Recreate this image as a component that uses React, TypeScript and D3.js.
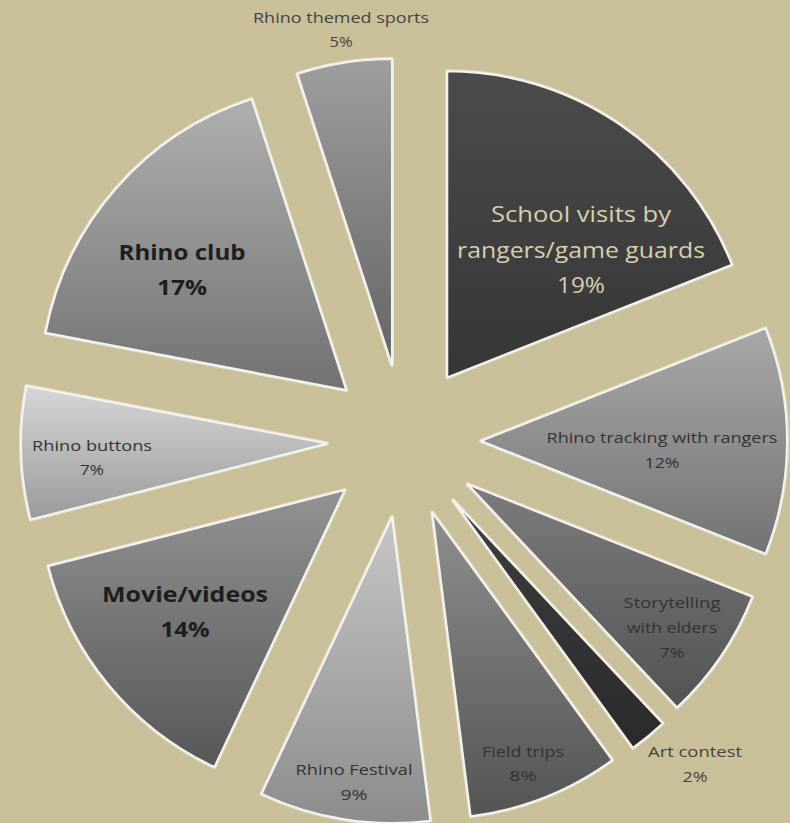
import React from "react";
import * as d3 from "d3";

// ---- data ----
const categories = [
  "School visits by rangers/game guards",
  "Rhino tracking with rangers",
  "Storytelling with elders",
  "Art contest",
  "Field trips",
  "Rhino Festival",
  "Movie/videos",
  "Rhino buttons",
  "Rhino club",
  "Rhino themed sports",
];
const values = [19, 12, 7, 2, 8, 9, 14, 7, 17, 5];
const labelLines = [
  ["School visits by", "rangers/game guards"],
  ["Rhino tracking with rangers"],
  ["Storytelling", "with elders"],
  ["Art contest"],
  ["Field trips"],
  ["Rhino Festival"],
  ["Movie/videos"],
  ["Rhino buttons"],
  ["Rhino club"],
  ["Rhino themed sports"],
];

// ---- styles ----
const fillTop = ["#4b4b4b", "#a8a8a8", "#7c7c7c", "#3e3e3e", "#8e8e8e", "#c6c6c6", "#929292", "#d6d6d6", "#afafaf", "#9e9e9e"];
const fillBottom = ["#363636", "#737373", "#535353", "#2a2a2a", "#545454", "#8c8c8c", "#575757", "#9a9a9a", "#727272", "#646464"];

// label layout: anchor x (centre), first baseline y, font size, weight, line height, colour, text widths
const labelLayout = [
  { x: 581, y: 222, size: 22, weight: 400, lh: 35.5, color: "#d8cfad", widths: [180, 248, 48] },
  { x: 662, y: 443, size: 15, weight: 400, lh: 25, color: "#333333", widths: [231, 35] },
  { x: 672, y: 608, size: 15, weight: 400, lh: 25, color: "#333333", widths: [97, 90, 25] },
  { x: 695, y: 757, size: 15, weight: 400, lh: 25, color: "#444444", widths: [94, 25] },
  { x: 523, y: 757, size: 15, weight: 400, lh: 23.5, color: "#333333", widths: [82, 27] },
  { x: 354, y: 775, size: 15, weight: 400, lh: 24.5, color: "#333333", widths: [117, 27] },
  { x: 185, y: 602, size: 22, weight: 700, lh: 35, color: "#1e1e1e", widths: [166, 49] },
  { x: 92, y: 451, size: 15, weight: 400, lh: 24, color: "#333333", widths: [120, 24] },
  { x: 182, y: 260, size: 21, weight: 700, lh: 35, color: "#1e1e1e", widths: [127, 50] },
  { x: 341, y: 23, size: 15, weight: 400, lh: 24, color: "#444444", widths: [176, 23] },
];

const W = 790;
const H = 823;
const CX = 404;
const CY = 441;
const R = 306;
const EXPLODE = 77;
const BG = "#c9bf99";

export default function App() {
  const pie = d3
    .pie<number>()
    .sort(null)
    .value((d) => d)
    .startAngle(0)
    .endAngle(2 * Math.PI);
  const arcs = pie(values);
  const arcGen = d3.arc<d3.PieArcDatum<number>>().innerRadius(0).outerRadius(R);

  return (
    <div style={{ position: "absolute", left: 0, top: 0, width: W, height: H }}>
      <svg width={W} height={H} style={{ display: "block" }} fontFamily="'Open Sans', sans-serif">
        <defs>
          {arcs.map((a, i) => (
            <linearGradient key={i} id={`g${i}`} x1="0" y1="0" x2="0" y2="1">
              <stop offset="0%" stopColor={fillTop[i]} />
              <stop offset="100%" stopColor={fillBottom[i]} />
            </linearGradient>
          ))}
          <filter id="soft" x="-10%" y="-10%" width="120%" height="120%">
            <feGaussianBlur stdDeviation="0.6" />
          </filter>
        </defs>
        <rect x={0} y={0} width={W} height={H} fill={BG} />
        <g transform={`translate(${CX},${CY})`}>
          {arcs.map((a, i) => {
            const mid = (a.startAngle + a.endAngle) / 2;
            const dx = EXPLODE * Math.sin(mid);
            const dy = -EXPLODE * Math.cos(mid);
            const d = arcGen(a) || "";
            return (
              <g key={i} transform={`translate(${dx},${dy})`}>
                <path d={d} fill="none" stroke="#ffffff" strokeWidth={4} strokeLinejoin="round" opacity={0.55} filter="url(#soft)" />
                <path d={d} fill={`url(#g${i})`} stroke="#f3f3f0" strokeWidth={2} strokeLinejoin="round">
                  <title>{categories[i]}</title>
                </path>
              </g>
            );
          })}
        </g>
        {labelLayout.map((L, i) => {
          const lines = [...labelLines[i], `${values[i]}%`];
          return (
            <text key={i} fill={L.color} fontSize={L.size} fontWeight={L.weight} textAnchor="middle">
              {lines.map((ln, j) => (
                <tspan
                  key={j}
                  x={L.x}
                  y={L.y + j * L.lh}
                  textLength={L.widths[j]}
                  lengthAdjust="spacingAndGlyphs"
                >
                  {ln}
                </tspan>
              ))}
            </text>
          );
        })}
      </svg>
    </div>
  );
}
